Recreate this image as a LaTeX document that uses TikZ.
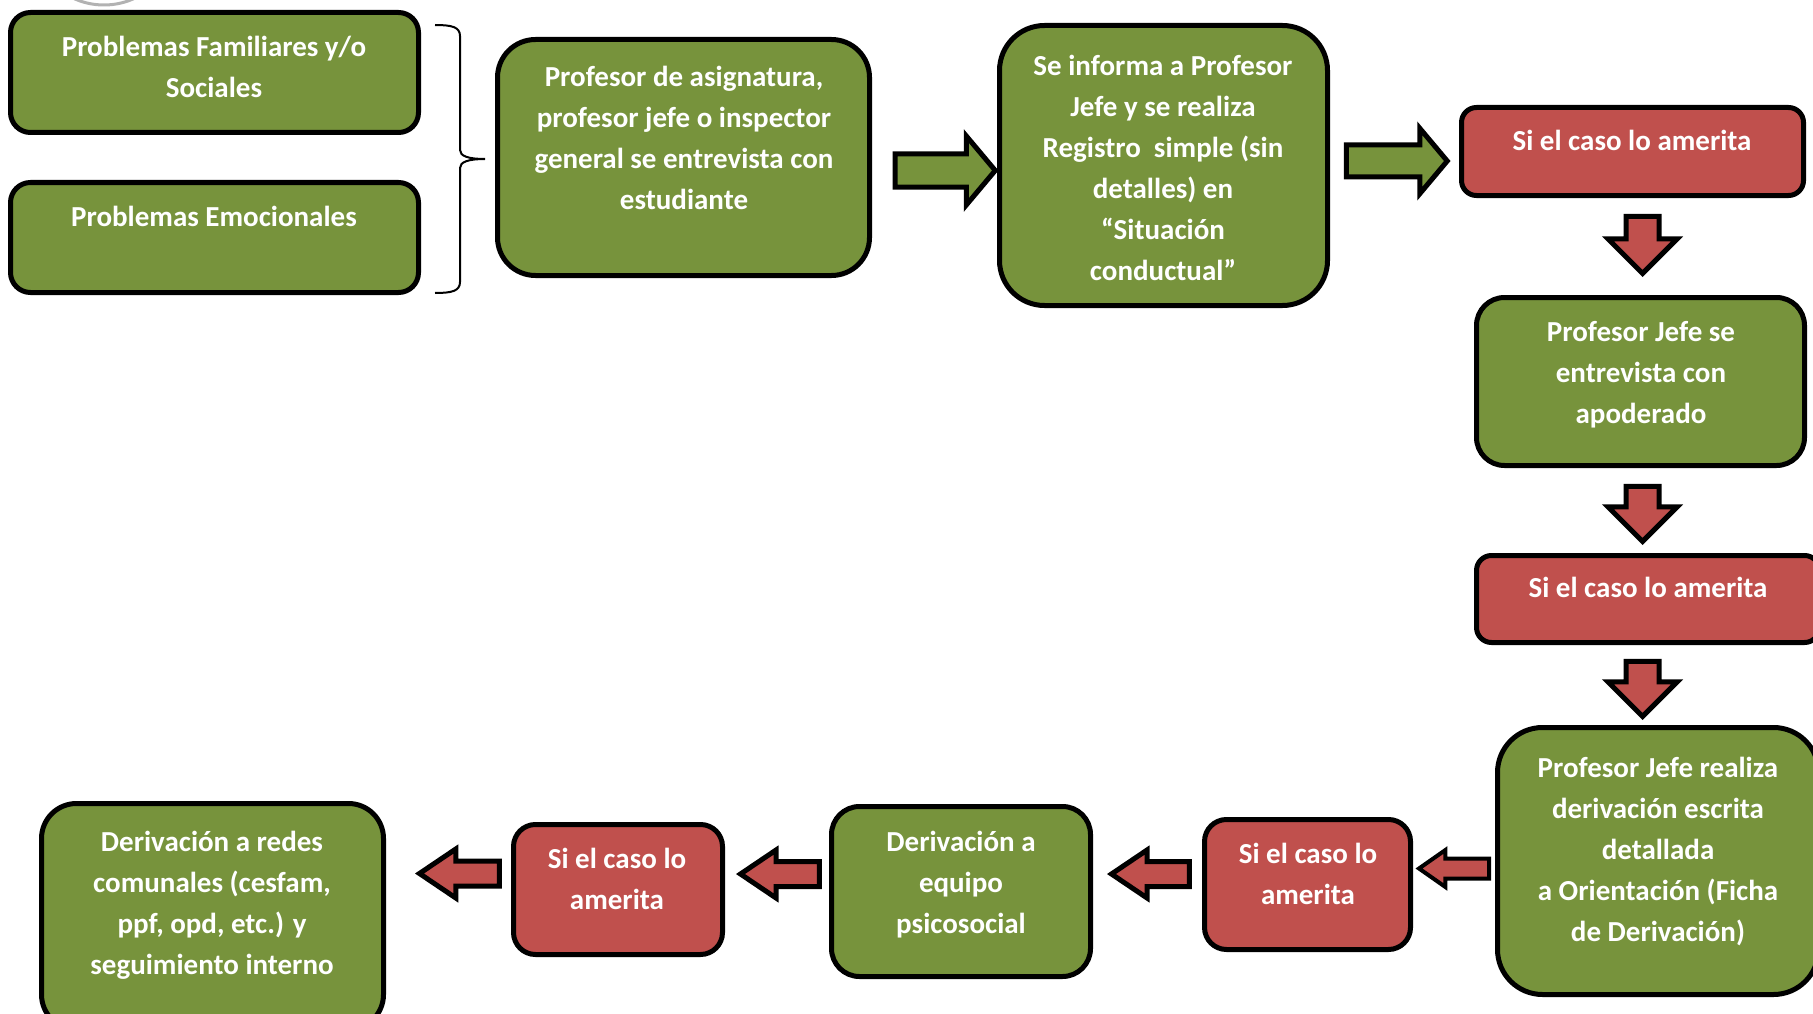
\documentclass[tikz,border=0pt]{standalone}
\usepackage{fontspec}
\setmainfont{Carlito}
\usetikzlibrary{shapes.arrows}
\definecolor{verde}{HTML}{77933C}
\definecolor{rojo}{HTML}{C0504D}

\begin{document}
\begin{tikzpicture}[x=1pt, y=-1pt,
	caja/.style={draw=black, line width=5pt, inner sep=0pt},
	texto/.style={text=white, font=\bfseries\fontsize{29}{41}\selectfont, align=center, anchor=north, inner sep=0pt},
	flecha/.style={single arrow, draw=black, line width=5pt, single arrow head indent=0pt, anchor=tip}]
	\useasboundingbox (0,0) rectangle (1813,1014);
	
	\draw[gray!60, line width=3pt] (104,-68) circle (73pt);
	
	% cajas
	\node[caja, fill=verde, minimum width=408pt, minimum height=120pt, rounded corners=20pt] (Fam) at (214.5,72.5) {};
	\node[caja, fill=verde, minimum width=408pt, minimum height=110pt, rounded corners=20pt] (Emo) at (214.5,237.5) {};
	\node[caja, fill=verde, minimum width=372pt, minimum height=236pt, rounded corners=38pt] (Prof) at (683.5,157.5) {};
	\node[caja, fill=verde, minimum width=328pt, minimum height=280pt, rounded corners=45pt] (Info) at (1163.5,165.5) {};
	\node[caja, fill=rojo, minimum width=342pt, minimum height=88pt, rounded corners=15pt] (S1) at (1632.5,151.5) {};
	\node[caja, fill=verde, minimum width=328pt, minimum height=168pt, rounded corners=28pt] (Apod) at (1640.5,381.5) {};
	\node[caja, fill=rojo, minimum width=343pt, minimum height=87pt, rounded corners=15pt] (S2) at (1648,599) {};
	\node[caja, fill=verde, minimum width=321pt, minimum height=267pt, rounded corners=45pt] (Deriv) at (1658,861) {};
	\node[caja, fill=rojo, minimum width=206pt, minimum height=130pt, rounded corners=22pt] (S3) at (1307.5,884.5) {};
	\node[caja, fill=verde, minimum width=259pt, minimum height=170pt, rounded corners=28pt] (Psico) at (961,891.5) {};
	\node[caja, fill=rojo, minimum width=209pt, minimum height=130pt, rounded corners=22pt] (S4) at (618,889.5) {};
	\node[caja, fill=verde, minimum width=342pt, minimum height=226pt, rounded corners=35pt] (Redes) at (212.5,916.5) {};
	
	% textos
	\node[texto] (FamT) at (214,36) {Problemas Familiares y/o\\Sociales};
	\node[texto] (EmoT) at (214,206) {Problemas Emocionales};
	\node[texto] (ProfT) at (684,66) {Profesor de asignatura,\\profesor jefe o inspector\\general se entrevista con\\estudiante};
	\node[texto] (InfoT) at (1163,55) {Se informa a Profesor\\Jefe y se realiza\\Registro~ simple (sin\\detalles) en\\“Situación\\conductual”};
	\node[texto] (S1T) at (1632,130) {Si el caso lo amerita};
	\node[texto] (ApodT) at (1641,321) {Profesor Jefe se\\entrevista con\\apoderado};
	\node[texto] (S2T) at (1648,577) {Si el caso lo amerita};
	\node[texto] (DerivT) at (1658,757) {Profesor Jefe realiza\\derivación escrita\\detallada\\a Orientación (Ficha\\de Derivación)};
	\node[texto] (S3T) at (1308,843) {Si el caso lo\\amerita};
	\node[texto] (PsicoT) at (961,831) {Derivación a\\equipo\\psicosocial};
	\node[texto] (S4T) at (617,848) {Si el caso lo\\amerita};
	\node[texto] (RedesT) at (212,831) {Derivación a redes\\comunales (cesfam,\\ppf, opd, etc.) y\\seguimiento interno};
	
	% llave
	\draw[line width=2pt] (435,25) .. controls (452,25) and (460,27) .. (460,36) -- (460,150)
		.. controls (460,156) and (468,159) .. (485,159)
		.. controls (468,159) and (460,162) .. (460,168) -- (460,282)
		.. controls (460,291) and (452,293) .. (435,293);
	
	% flechas (puntas)
	\node[flecha, fill=verde, inner sep=14pt, minimum height=100pt, single arrow head extend=18pt, single arrow tip angle=100] (A1) at (998.5,170.5) {};
	\node[flecha, fill=verde, inner sep=13.5pt, minimum height=101pt, single arrow head extend=16.5pt, single arrow tip angle=100] (A2) at (1450.5,161) {};
	\node[flecha, fill=rojo, inner sep=14pt, minimum height=57pt, single arrow head extend=18pt, shape border rotate=270] (D1) at (1642.5,277) {};
	\node[flecha, fill=rojo, inner sep=14pt, minimum height=55pt, single arrow head extend=18pt, shape border rotate=270] (D2) at (1642.5,545) {};
	\node[flecha, fill=rojo, inner sep=14pt, minimum height=55pt, single arrow head extend=18pt, shape border rotate=270] (D3) at (1642.5,720) {};
	\node[flecha, fill=rojo, line width=4pt, inner sep=8pt, minimum height=70pt, single arrow head extend=8.5pt, single arrow tip angle=70, shape border rotate=180] (L1) at (1415.5,868.5) {};
	\node[flecha, fill=rojo, inner sep=10pt, minimum height=78pt, single arrow head extend=11.5pt, single arrow tip angle=68, shape border rotate=180] (L2) at (1107,874) {};
	\node[flecha, fill=rojo, inner sep=10pt, minimum height=79pt, single arrow head extend=11.5pt, single arrow tip angle=68, shape border rotate=180] (L3) at (736,874) {};
	\node[flecha, fill=rojo, inner sep=10pt, minimum height=80pt, single arrow head extend=12pt, single arrow tip angle=68, shape border rotate=180] (L4) at (415,873.5) {};
\end{tikzpicture}
\end{document}
